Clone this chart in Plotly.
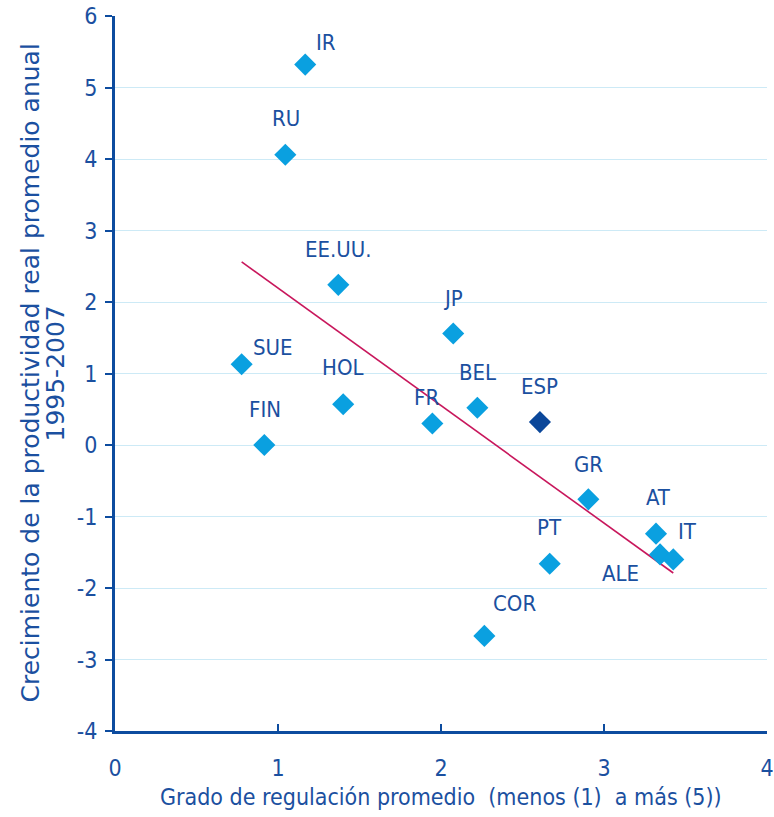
import plotly.graph_objects as go

countries = ["IR", "RU", "EE.UU.", "JP", "SUE", "HOL", "BEL", "ESP", "FR", "FIN",
             "GR", "AT", "ALE", "IT", "PT", "COR"]
regulation = [1.167, 1.045, 1.370, 2.075, 0.777, 1.400, 2.223, 2.607, 1.947, 0.916,
              2.904, 3.319, 3.344, 3.425, 2.667, 2.266]
growth = [5.32, 4.06, 2.24, 1.56, 1.13, 0.57, 0.52, 0.32, 0.30, 0.00,
          -0.76, -1.24, -1.53, -1.60, -1.66, -2.67]
trend_x = [0.777, 3.425]
trend_y = [2.56, -1.79]
y_ticks = [-4, -3, -2, -1, 0, 1, 2, 3, 4, 5, 6]
y_tick_labels = ["-4", "-3", "-2", "-1", "0", "1", "2", "3", "4", "5", "6"]
x_ticks = [0, 1, 2, 3, 4]
x_title = "Grado de regulación promedio  (menos (1)  a más (5))"
y_title_lines = ["Crecimiento de la productividad real promedio anual", "1995-2007"]

# label offsets in pixels (dx, dy) relative to the marker
label_dx = [21, 1, 0, 0, 31, 0, 0, 0, -6, 1, 0, 2, -40, 14, 0, 30]
label_dy = [22, 36, 35, 35, 17, 37, 35, 36, 26, 36, 35, 36, -19, 28, 36, 32]

TEXT = "#1b50a0"
AXIS = "#0d4c9f"
LIGHT = "#0aa0e0"
DARK = "#0b479a"
LINE = "#c8175c"
GRID = "#cdeaf6"
FONT = "DejaVu Sans Condensed, Liberation Sans, sans-serif"
WIDE = "DejaVu Sans, Liberation Sans, sans-serif"

colors = [DARK if c == "ESP" else LIGHT for c in countries]

fig = go.Figure()
fig.add_trace(go.Scatter(x=trend_x, y=trend_y, mode="lines",
                         line=dict(color=LINE, width=1.6), hoverinfo="skip",
                         showlegend=False))
fig.add_trace(go.Scatter(x=regulation, y=growth, mode="markers",
                         marker=dict(symbol="diamond", size=17, color=colors,
                                     line=dict(width=0)),
                         text=countries, showlegend=False))

for c, xv, yv, dx, dy in zip(countries, regulation, growth, label_dx, label_dy):
    fig.add_annotation(x=xv, y=yv, text=c, showarrow=False, xshift=dx, yshift=dy,
                       font=dict(family=FONT, size=22, color=TEXT))

# axis titles
fig.add_annotation(xref="paper", yref="paper", x=0.5, y=0, text=x_title,
                   showarrow=False, xanchor="center", yanchor="middle", yshift=-66,
                   font=dict(family=FONT, size=23, color=TEXT))
for line, shift in zip(y_title_lines, [-85, -60]):
    fig.add_annotation(xref="paper", yref="paper", x=0, y=0.5, text=line,
                       showarrow=False, textangle=-90, xanchor="center",
                       yanchor="middle", xshift=shift,
                       font=dict(family=WIDE, size=25, color=TEXT))

fig.update_layout(
    width=774, height=817,
    margin=dict(l=115, r=7, t=16, b=86, autoexpand=False),
    paper_bgcolor="white", plot_bgcolor="white",
    font=dict(family=FONT, size=22, color=TEXT),
    xaxis=dict(range=[0, 4], tickvals=x_ticks, showgrid=False, zeroline=False,
               showline=True, linecolor=AXIS, linewidth=3, automargin=False,
               ticks="inside", ticklen=7, tickwidth=2, tickcolor=AXIS,
               ticklabeloverflow="allow", ticklabelstandoff=14,
               tickfont=dict(size=23, color=TEXT)),
    yaxis=dict(range=[-4, 6], tickvals=y_ticks, ticktext=y_tick_labels,
               showgrid=True, gridcolor=GRID, gridwidth=1, zeroline=False,
               showline=True, linecolor=AXIS, linewidth=3, automargin=False,
               ticks="outside", ticklen=7, tickwidth=2, tickcolor=AXIS,
               ticklabeloverflow="allow", ticklabelstandoff=3,
               tickfont=dict(size=23, color=TEXT)),
)

fig.write_html("out.html", config={"displayModeBar": False},
               post_script="document.body.style.margin='0';"
                           "document.body.style.overflow='hidden';")
